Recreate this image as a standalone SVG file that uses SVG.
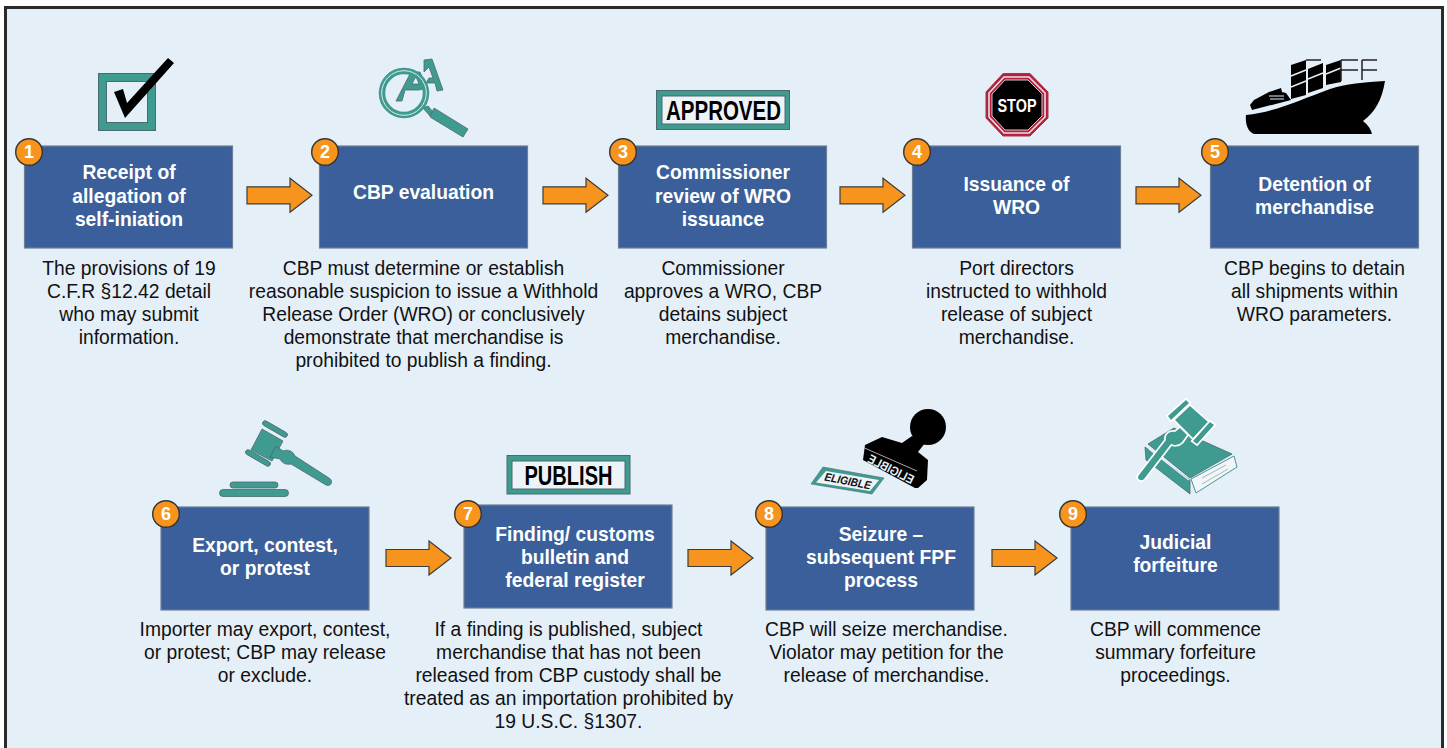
<svg xmlns="http://www.w3.org/2000/svg" width="1447" height="748" viewBox="0 0 1447 748">
<style>
.box{fill:#3a5f9a;stroke:#6d7f96;stroke-width:1.2}
.t{font-family:"Liberation Sans",Arial,sans-serif;font-weight:700;font-size:19.3px;fill:#fff;text-anchor:middle}
.d{font-family:"Liberation Sans",Arial,sans-serif;font-size:19.3px;fill:#111;text-anchor:middle}
.arrow{fill:#f7941d;stroke:#3c3c3c;stroke-width:1.2}
.badge{fill:#f7941d;stroke:#333;stroke-width:1.4}
.n{font-family:"Liberation Sans",Arial,sans-serif;font-weight:700;font-size:18px;fill:#fff;text-anchor:middle}
.teal{fill:#3f9a90;stroke:#4a6a70;stroke-width:.8}
.gap{stroke:#e4eff8;fill:none}
.stamp{font-family:"Liberation Sans",Arial,sans-serif;font-weight:700;fill:#000;text-anchor:middle}
</style>
<defs>
<path id="ar" class="arrow" d="M0 -8.500H43V-17L65 0 43 17V8.500H0Z"/>
<circle id="bd" class="badge" r="13.300"/>
</defs>
<rect width="1447" height="748" fill="#fff"/>
<rect x="5.500" y="7.500" width="1437" height="746" fill="#e4eff8" stroke="#2a2a2a" stroke-width="3"/>

<g id="connectors">
<use href="#ar" x="247" y="195.300"/>
<use href="#ar" x="543" y="195.300"/>
<use href="#ar" x="840" y="195.300"/>
<use href="#ar" x="1136" y="195.300"/>
<use href="#ar" x="386" y="558"/>
<use href="#ar" x="688" y="558"/>
<use href="#ar" x="992" y="558"/>
</g>

<g id="node1">
<rect x="98.500" y="73.500" width="57" height="57" fill="#3f9a90" stroke="#4a6a70"/>
<rect x="106.500" y="81.500" width="41" height="41" fill="#e4eff8" stroke="#4a6a70"/>
<path d="M114 92 123 89 127 103 168 58 174 63 125 118Z" fill="#000"/>
<rect class="box" x="24.500" y="146" width="208" height="102"/>
<use href="#bd" x="29" y="152"/><text class="n" x="29" y="158.300">1</text>
<text class="t" x="129" y="179">Receipt of</text><text class="t" x="129" y="203">allegation of</text><text class="t" x="129" y="226">self-iniation</text>
<text class="d"><tspan x="129" y="275">The provisions of 19</tspan><tspan x="129" y="298">C.F.R §12.42 detail</tspan><tspan x="129" y="321">who may submit</tspan><tspan x="129" y="344">information.</tspan></text>
</g>

<g id="node2">
<path d="M424 60 432 59 443 90 437 91 435 83 426 83 429 78 433 78 429 67 424 72Z" class="teal"/>
<path d="M396 101 411 72 420 72 427 88 419 90 405 90 402 101ZM412 84 419 84 416 76Z" class="teal" fill-rule="evenodd"/>
<path d="M423 108 428 106 433 112 430 116Z" class="teal"/>
<circle cx="404" cy="93" r="22" fill="none" stroke="#3f9a90" stroke-width="6.500"/>
<circle cx="404" cy="93" r="22.300" fill="none" stroke="#dfeaf0" stroke-width="1"/>
<path d="M430 117 434 108 468 129 463 137Z" class="teal"/>
<rect class="box" x="319.500" y="146" width="208" height="102"/>
<use href="#bd" x="325" y="152"/><text class="n" x="325" y="158.300">2</text>
<text class="t" x="423.500" y="199">CBP evaluation</text>
<text class="d"><tspan x="423.500" y="275">CBP must determine or establish</tspan><tspan x="423.500" y="298">reasonable suspicion to issue a Withhold</tspan><tspan x="423.500" y="321">Release Order (WRO) or conclusively</tspan><tspan x="423.500" y="344">demonstrate that merchandise is</tspan><tspan x="423.500" y="367">prohibited to publish a finding.</tspan></text>
</g>

<g id="node3">
<rect x="656.500" y="90.500" width="133" height="39" fill="#3f9a90" stroke="#4a6a70"/>
<rect x="662" y="96" width="123" height="28" fill="#eef3f8" stroke="#4a6a70"/>
<text class="stamp" x="723.500" y="120" font-size="27" textLength="115" lengthAdjust="spacingAndGlyphs">APPROVED</text>
<rect class="box" x="618.500" y="146" width="208" height="102"/>
<use href="#bd" x="623" y="152"/><text class="n" x="623" y="158.300">3</text>
<text class="t" x="723" y="179">Commissioner</text><text class="t" x="723" y="203">review of WRO</text><text class="t" x="723" y="226">issuance</text>
<text class="d"><tspan x="723" y="275">Commissioner</tspan><tspan x="723" y="298">approves a WRO, CBP</tspan><tspan x="723" y="321">detains subject</tspan><tspan x="723" y="344">merchandise.</tspan></text>
</g>

<g id="node4">
<path d="M1003 73.500H1030L1048 92V118L1030 136H1003L986 118V92Z" fill="#b2203c" stroke="#a8324a"/>
<path d="M1004 77H1029L1045 93V117L1029 133H1004L989 117V93Z" fill="none" stroke="#e9e2e6" stroke-width="1.600"/>
<path d="M1005 80H1028L1042 94V116L1028 130H1005L992 116V94Z" fill="#000" stroke="#d9c3cb" stroke-width="1"/>
<text x="1017" y="112" font-family="'Liberation Sans',Arial,sans-serif" font-weight="700" font-size="18" fill="#fff" text-anchor="middle" textLength="39" lengthAdjust="spacingAndGlyphs">STOP</text>
<rect class="box" x="912.500" y="146" width="208" height="102"/>
<use href="#bd" x="917" y="152"/><text class="n" x="917" y="158.300">4</text>
<text class="t" x="1016.500" y="191">Issuance of</text><text class="t" x="1016.500" y="214">WRO</text>
<text class="d"><tspan x="1016.500" y="275">Port directors</tspan><tspan x="1016.500" y="298">instructed to withhold</tspan><tspan x="1016.500" y="321">release of subject</tspan><tspan x="1016.500" y="344">merchandise.</tspan></text>
</g>

<g id="node5">
<path d="M1246 115C1275 112 1300 100 1330 89C1345 84 1365 82 1385 81C1382 100 1375 112 1363 121C1368 125 1371 129 1372 134H1254C1248 132 1245 124 1246 115Z" fill="#000"/>
<path d="M1250 105 1254 100 1269 92 1281 88 1282 92 1286 93 1291 100 1252 110Z" fill="#000"/>
<path d="M1269 96H1284M1270 99H1284" class="gap" stroke-width="1"/>
<path d="M1291 65 1306 60V95L1291 99Z" fill="#000"/>
<path d="M1308 69 1323 63V88L1308 93Z" fill="#000"/>
<path d="M1326 65 1341 60V82L1326 85Z" fill="#000"/>
<path d="M1291 76 1306 70M1291 87 1306 81M1308 79 1323 73M1326 74 1341 68" class="gap" stroke-width="1.500"/>
<path d="M1306 60H1321M1341 60H1358M1341 70H1358M1341 60V81M1362 60H1377M1362 70H1377M1362 60V80" stroke="#222" stroke-width="1.500" fill="none"/>
<rect class="box" x="1210.500" y="146" width="208" height="102"/>
<use href="#bd" x="1215" y="152"/><text class="n" x="1215" y="158.300">5</text>
<text class="t" x="1314.500" y="191">Detention of</text><text class="t" x="1314.500" y="214">merchandise</text>
<text class="d"><tspan x="1314.500" y="275">CBP begins to detain</tspan><tspan x="1314.500" y="298">all shipments within</tspan><tspan x="1314.500" y="321">WRO parameters.</tspan></text>
</g>

<g id="node6">
<g class="teal">
<path d="M262 429 283 441 272 461 251 450Z"/>
<rect x="261" y="426.500" width="28" height="5" rx="2.500" transform="rotate(30 275 429)"/>
<rect x="244" y="455.500" width="28" height="5" rx="2.500" transform="rotate(30 258 458)"/>
<path d="M276 446 283 451C288 449 293 451 295 456L329 478C334 481 331 487 326 485L291 464C286 465 282 463 280 459L270 457Z"/>
<rect x="230" y="482" width="48" height="6" rx="3"/>
<rect x="219.500" y="489.500" width="69" height="7" rx="3.500"/>
</g>
<rect class="box" x="161" y="507" width="208" height="103"/>
<use href="#bd" x="166" y="514"/><text class="n" x="166" y="520.300">6</text>
<text class="t" x="265" y="552">Export, contest,</text><text class="t" x="265" y="575">or protest</text>
<text class="d"><tspan x="265" y="636">Importer may export, contest,</tspan><tspan x="265" y="659">or protest; CBP may release</tspan><tspan x="265" y="682">or exclude.</tspan></text>
</g>

<g id="node7">
<rect x="507" y="455.500" width="123" height="38.500" fill="#3f9a90" stroke="#4a6a70"/>
<rect x="512" y="461" width="113" height="28" fill="#eef3f8" stroke="#4a6a70"/>
<text class="stamp" x="568.500" y="485" font-size="27" textLength="88" lengthAdjust="spacingAndGlyphs">PUBLISH</text>
<rect class="box" x="464" y="505" width="208" height="103"/>
<use href="#bd" x="468" y="514"/><text class="n" x="468" y="520.300">7</text>
<text class="t" x="575" y="541">Finding/ customs</text><text class="t" x="575" y="564">bulletin and</text><text class="t" x="575" y="587">federal register</text>
<text class="d"><tspan x="568.500" y="636">If a finding is published, subject</tspan><tspan x="568.500" y="659">merchandise that has not been</tspan><tspan x="568.500" y="682">released from CBP custody shall be</tspan><tspan x="568.500" y="705">treated as an importation prohibited by</tspan><tspan x="568.500" y="728">19 U.S.C. §1307.</tspan></text>
</g>

<g id="node8">
<circle cx="928" cy="427" r="18" fill="#000"/>
<path d="M865 445 882 437 902 443 912 436 925 443 918 452 928 460 927 480 918 488 915 488 863 460Z" fill="#000"/>
<path d="M864.500 448 917 471" stroke="#e4eff8" stroke-width=".7" fill="none"/>
<text transform="translate(889 473) rotate(27) scale(-1 1)" font-family="'Liberation Sans',Arial,sans-serif" font-weight="700" font-size="12.500" fill="#e4eff8" text-anchor="middle" textLength="50" lengthAdjust="spacingAndGlyphs">ELIGIBLE</text>
<path d="M823 467 884 478 872 494 811 484Z" fill="#3f9a90" stroke="#4a6a70" stroke-width=".6"/>
<path d="M826 471 879 480 870 491 816 482.500Z" fill="#eef3f8"/>
<text transform="translate(847 485) rotate(11)" font-family="'Liberation Sans',Arial,sans-serif" font-weight="700" font-style="italic" font-size="11.500" fill="#111" text-anchor="middle" textLength="47" lengthAdjust="spacingAndGlyphs">ELIGIBLE</text>
<rect class="box" x="766" y="507" width="208" height="103"/>
<use href="#bd" x="769" y="514"/><text class="n" x="769" y="520.300">8</text>
<text class="t" x="881" y="541">Seizure –</text><text class="t" x="881" y="564">subsequent FPF</text><text class="t" x="881" y="587">process</text>
<text class="d"><tspan x="886.500" y="636">CBP will seize merchandise.</tspan><tspan x="886.500" y="659">Violator may petition for the</tspan><tspan x="886.500" y="682">release of merchandise.</tspan></text>
</g>

<g id="node9">
<path d="M1145 447 1190 480V494L1146 460Z" class="teal"/>
<path d="M1149 449 1189 480" class="gap" stroke-width="1.500"/>
<path d="M1148 444 1174 428 1232 454 1190 478Z" class="teal"/>
<path d="M1191 479 1234 456 1237 467 1196 493Z" fill="#f3f6f9" stroke="#3f9a90"/>
<path d="M1202 478 1226 465M1202 484 1228 469" stroke="#9fb9b8" stroke-width="1" fill="none"/>
<g stroke="#fff" stroke-width="3.500" paint-order="stroke" fill="#3f9a90">
<path d="M1175 420 1190 406 1208 422 1193 438Z"/>
<path d="M1168 416 1186 400 1189 403 1171 420Z"/>
<path d="M1193 441 1210 422 1214 425 1197 444Z"/>
<path d="M1180 428 1187 435 1182 442C1178 446 1173 445 1171 444L1144 479C1141 482 1136 479 1139 475L1166 440C1165 436 1168 431 1175 432Z"/>
</g>
<rect class="box" x="1071" y="507" width="208" height="103"/>
<use href="#bd" x="1073" y="514"/><text class="n" x="1073" y="520.300">9</text>
<text class="t" x="1175.500" y="549">Judicial</text><text class="t" x="1175.500" y="572">forfeiture</text>
<text class="d"><tspan x="1175.500" y="636">CBP will commence</tspan><tspan x="1175.500" y="659">summary forfeiture</tspan><tspan x="1175.500" y="682">proceedings.</tspan></text>
</g>
</svg>
